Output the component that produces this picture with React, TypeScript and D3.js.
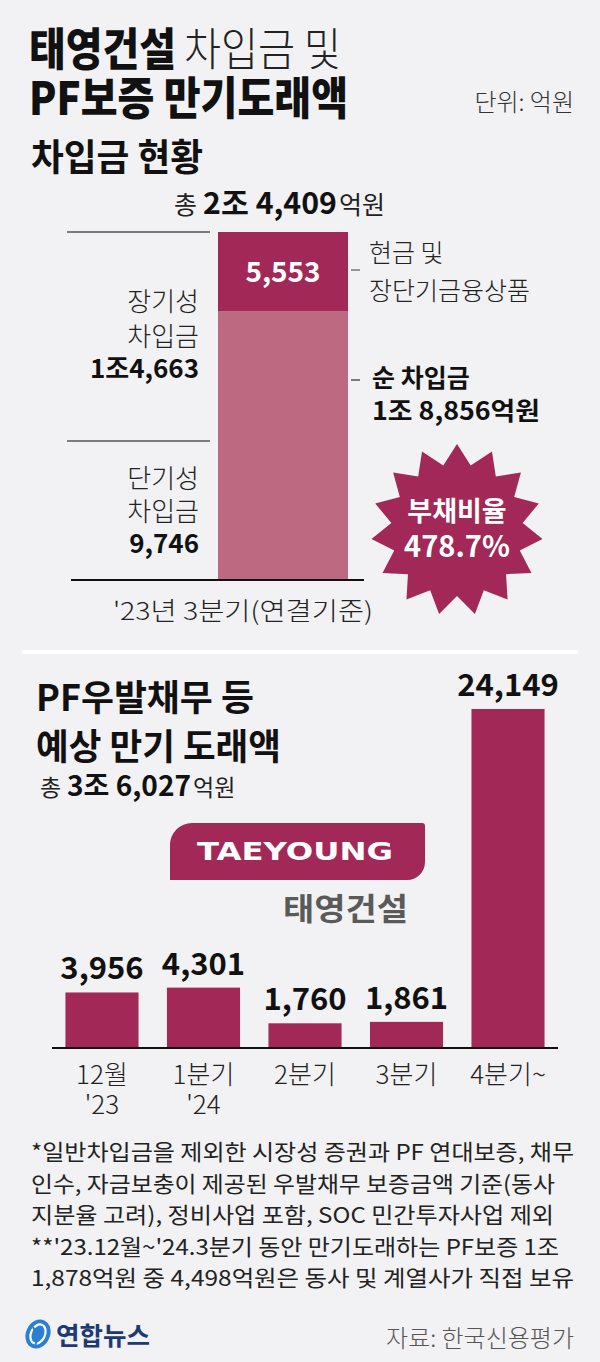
import React from 'react';
import * as d3 from 'd3';

// ---------- data ----------
const stackTotal = 24409;
const stackSegments = ['단기성 차입금', '장기성 차입금'];
const stackValues = [9746, 14663];
const cashLabel = '현금 및 장단기금융상품';
const cashValue = 5553;
const netDebtValue = 18856;
const debtRatio = '478.7%';
const periodLabel = "'23년 3분기(연결기준)";

const pfCategories = ["12월|'23", "1분기|'24", '2분기', '3분기', '4분기~'];
const pfValues = [3956, 4301, 1760, 1861, 24149];
const pfTotalLabel = '3조 6,027';

const footnotes = [
  '*일반차입금을 제외한 시장성 증권과 PF 연대보증, 채무',
  '인수, 자금보충이 제공된 우발채무 보증금액 기준(동사',
  '지분율 고려), 정비사업 포함, SOC 민간투자사업 제외',
  "**'23.12월~'24.3분기 동안 만기도래하는 PF보증 1조",
  '1,878억원 중 4,498억원은 동사 및 계열사가 직접 보유',
];
const footnoteWidths = [543, 524, 523, 528, 543];

const FONT = "'Noto Sans CJK KR', 'Noto Sans', sans-serif";
const DARK = '#a12857';
const LIGHT = '#bd6981';
const BG = '#f2f2f4';
const fmt = d3.format(',');

export default function App() {
  // stacked bar scales
  const yS = d3.scaleLinear().domain([0, stackTotal]).range([580, 232]);
  const xS = d3.scaleBand().domain(['q3']).range([218, 348]).padding(0);
  const bx = xS('q3') as number;
  const bw = xS.bandwidth();
  const shortTop = yS(stackValues[0]);
  const netTop = yS(netDebtValue);
  const totTop = yS(stackValues[0] + stackValues[1]);

  // PF bar scales
  const xP = d3.scaleBand().domain(pfCategories).range([52, 558]).paddingInner(0.28).paddingOuter(0.1325);
  const yP = d3.scaleLinear().domain([0, d3.max(pfValues) as number]).range([1048, 709]);

  // burst
  const nPts = 15;
  const burstPts: [number, number][] = d3.range(nPts * 2).map((i) => [
    (i * Math.PI) / nPts,
    i % 2 === 0 ? 86 : 66,
  ]);
  const burst = d3.lineRadial().curve(d3.curveLinearClosed)(burstPts) as string;

  return (
    <svg
      width={600}
      height={1362}
      viewBox="0 0 600 1362"
      style={{ position: 'absolute', left: 0, top: 0, display: 'block' }}
      fontFamily={FONT}
    >
      <rect x={0} y={0} width={600} height={1362} fill={BG} />

      {/* Title */}
      <text fontSize={45} fill="#111">
        <tspan x={29} y={66} fontWeight={900} textLength={147} lengthAdjust="spacingAndGlyphs">태영건설</tspan>
        <tspan x={184} y={66} fontWeight={300} fill="#222" textLength={157} lengthAdjust="spacingAndGlyphs">차입금 및</tspan>
        <tspan x={29} y={115} fontWeight={900} textLength={319} lengthAdjust="spacingAndGlyphs">PF보증 만기도래액</tspan>
      </text>
      <text x={574} y={111} fontSize={24} fontWeight={300} fill="#333" textAnchor="end">단위: 억원</text>

      {/* Section 1 */}
      <text x={31} y={171} fontSize={37} fontWeight={700} fill="#111" textLength={172} lengthAdjust="spacingAndGlyphs">차입금 현황</text>
      <text x={174} y={214} fontSize={25} fontWeight={400} fill="#222">총</text>
      <text x={203} y={214} fontSize={30} fontWeight={700} fill="#111" textLength={134} lengthAdjust="spacingAndGlyphs">2조 4,409</text>
      <text x={339} y={214} fontSize={25} fontWeight={400} fill="#222">억원</text>

      {/* left guide lines */}
      <line x1={67} x2={210} y1={totTop} y2={totTop} stroke="#555" strokeWidth={1.5} />
      <line x1={67} x2={210} y1={shortTop} y2={shortTop} stroke="#555" strokeWidth={1.5} />

      {/* stacked bar */}
      <rect x={bx} y={netTop} width={bw} height={yS(0) - netTop} fill={LIGHT} />
      <rect x={bx} y={totTop} width={bw} height={netTop - totTop} fill={DARK} />
      <text x={bx + bw / 2} y={(totTop + netTop) / 2 + 10} fontSize={28} fontWeight={700} fill="#fff" textAnchor="middle">{fmt(cashValue)}</text>

      {/* left labels */}
      <text fontSize={26} fill="#222" textAnchor="end">
        <tspan x={199} y={311} fontWeight={300}>{stackSegments[1].slice(0, 3)}</tspan>
        <tspan x={199} y={346} fontWeight={300}>{stackSegments[1].slice(4)}</tspan>
        <tspan x={199} y={378} fontWeight={700} fill="#111">1조{fmt(stackValues[1] - 10000)}</tspan>
      </text>
      <text fontSize={26} fill="#222" textAnchor="end">
        <tspan x={199} y={488} fontWeight={300}>{stackSegments[0].slice(0, 3)}</tspan>
        <tspan x={199} y={521} fontWeight={300}>{stackSegments[0].slice(4)}</tspan>
        <tspan x={199} y={553} fontWeight={700} fill="#111">{fmt(stackValues[0])}</tspan>
      </text>

      {/* right labels */}
      <line x1={351} x2={360} y1={270} y2={270} stroke="#777" strokeWidth={1.5} />
      <line x1={351} x2={360} y1={380} y2={380} stroke="#555" strokeWidth={1.5} />
      <text fontSize={25} fontWeight={300} fill="#222">
        <tspan x={369} y={262}>{cashLabel.split(' ').slice(0, 2).join(' ')}</tspan>
        <tspan x={369} y={300}>{cashLabel.split(' ')[2]}</tspan>
      </text>
      <text fontSize={25} fontWeight={700} fill="#111">
        <tspan x={372} y={387}>순 차입금</tspan>
        <tspan x={372} y={420} textLength={168} lengthAdjust="spacingAndGlyphs">1조 {fmt(netDebtValue - 10000)}억원</tspan>
      </text>

      {/* axis */}
      <line x1={71} x2={364} y1={yS(0)} y2={yS(0)} stroke="#111" strokeWidth={2} />
      <text x={113} y={620} fontSize={25} fontWeight={300} fill="#222" textLength={260} lengthAdjust="spacingAndGlyphs">{periodLabel}</text>

      {/* burst */}
      <g transform="translate(457,530)">
        <path d={burst} fill={DARK} />
        <text fontWeight={700} fill="#fff" textAnchor="middle">
          <tspan x={0} y={-9} fontSize={27}>부채비율</tspan>
          <tspan x={0} y={27} fontSize={29}>{debtRatio}</tspan>
        </text>
      </g>

      {/* divider */}
      <line x1={22} x2={578} y1={652} y2={652} stroke="#fff" strokeWidth={4} />

      {/* Section 2 */}
      <text fontSize={36} fontWeight={700} fill="#111">
        <tspan x={36} y={711} textLength={218} lengthAdjust="spacingAndGlyphs">PF우발채무 등</tspan>
        <tspan x={36} y={760} textLength={245} lengthAdjust="spacingAndGlyphs">예상 만기 도래액</tspan>
      </text>
      <text x={40} y={796} fontSize={23} fontWeight={400} fill="#222">총</text>
      <text x={67} y={796} fontSize={28} fontWeight={700} fill="#111" textLength={124} lengthAdjust="spacingAndGlyphs">{pfTotalLabel}</text>
      <text x={193} y={796} fontSize={23} fontWeight={400} fill="#222">억원</text>

      {/* TAEYOUNG logo */}
      <path d="M170 880 L170 845 A22 22 0 0 1 192 823 L422 823 Q425 823 425 826 L425 862 A18 18 0 0 1 407 880 Z" fill={DARK} />
      <text x={197} y={860} fontFamily="'DejaVu Sans', sans-serif" fontSize={25} fontWeight={700} fill="#fff" textLength={196} lengthAdjust="spacingAndGlyphs">TAEYOUNG</text>
      <text x={283} y={920} fontSize={31} fontWeight={700} fill="#5a5a5a" textLength={125} lengthAdjust="spacingAndGlyphs">태영건설</text>

      {/* PF bars */}
      {pfCategories.map((c, i) => {
        const x = xP(c) as number;
        const w = xP.bandwidth();
        const y = yP(pfValues[i]);
        const lines = c.split('|');
        return (
          <g key={c}>
            <rect x={x} y={y} width={w} height={yP(0) - y} fill={DARK} />
            <text x={x + w / 2} y={y - 13} fontSize={31} fontWeight={700} fill="#111" textAnchor="middle">{fmt(pfValues[i])}</text>
            <text fontSize={26} fontWeight={300} fill="#222" textAnchor="middle">
              {lines.map((l, j) => (
                <tspan key={j} x={x + w / 2} y={1084 + j * 30}>{l}</tspan>
              ))}
            </text>
          </g>
        );
      })}
      <line x1={52} x2={558} y1={yP(0)} y2={yP(0)} stroke="#111" strokeWidth={2} />

      {/* footnotes */}
      <text fontSize={22} fontWeight={400} fill="#222">
        {footnotes.map((f, i) => (
          <tspan key={i} x={31} y={1160 + i * 31.5} textLength={footnoteWidths[i]} lengthAdjust="spacingAndGlyphs">{f}</tspan>
        ))}
      </text>

      {/* footer */}
      <g transform="translate(38,1334) rotate(25)">
        <ellipse cx={0} cy={0} rx={12} ry={15} fill="#2b7fd3" />
        <ellipse cx={0} cy={0} rx={7} ry={10} fill="none" stroke="#fff" strokeWidth={2.2} />
      </g>
      <path d="M33 1327 Q37 1336 41 1333 M42 1326 L35 1346" stroke="#2b7fd3" strokeWidth={2} fill="none" />
      <text x={56} y={1345} fontSize={25} fontWeight={700} fill="#1d3a75" textLength={94} lengthAdjust="spacingAndGlyphs">연합뉴스</text>
      <text x={574} y={1347} fontSize={24} fontWeight={300} fill="#555" textAnchor="end">자료: 한국신용평가</text>
    </svg>
  );
}
